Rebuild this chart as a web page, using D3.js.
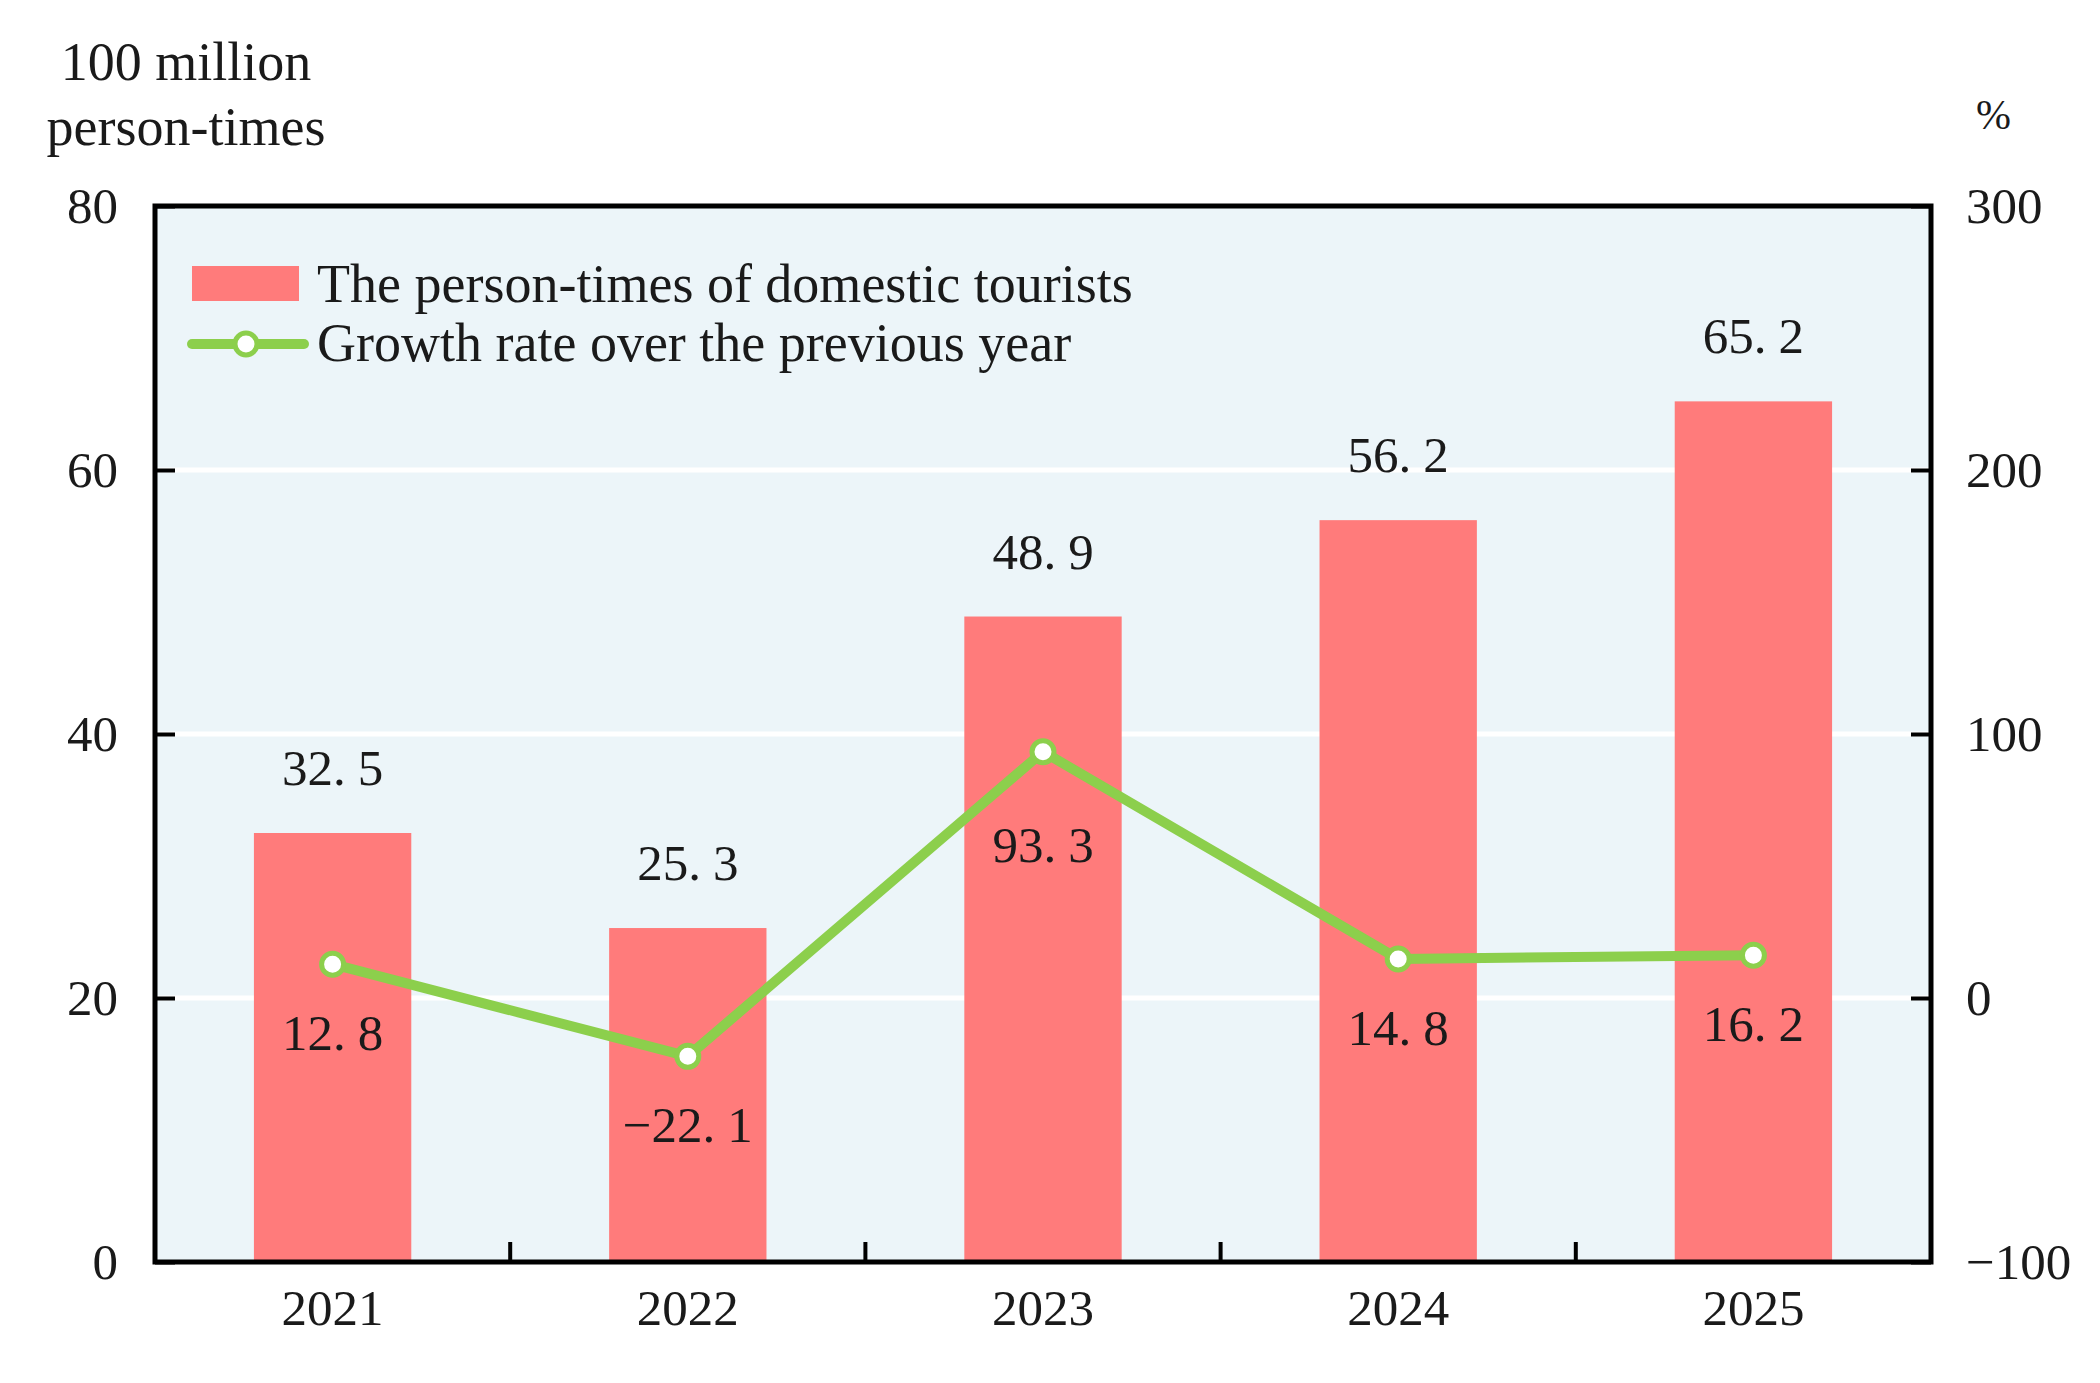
<!DOCTYPE html>
<html>
<head>
<meta charset="utf-8">
<script src="https://cdn.jsdelivr.net/npm/d3@7"></script>
<style>
  body { margin: 0; background: #fff; }
  text { font-family: "Liberation Serif", "Times New Roman", serif; fill: #1a1a1a; }
</style>
</head>
<body>
<div id="chart"></div>
<script>
const years = ["2021", "2022", "2023", "2024", "2025"];
const tourists = [32.5, 25.3, 48.9, 56.2, 65.2];
const growth = [12.8, -22.1, 93.3, 14.8, 16.2];
const leftTicks = [0, 20, 40, 60, 80];
const rightTicks = [-100, 0, 100, 200, 300];

const margin = {top: 206, right: 169, bottom: 121, left: 155};
const width = 2100 - margin.left - margin.right;
const height = 1383 - margin.top - margin.bottom;
const fontSize = 51;
const textSize = 54;

const svg = d3.select("#chart")
    .append("svg")
    .attr("width", width + margin.left + margin.right)
    .attr("height", height + margin.top + margin.bottom)
    .append("g")
    .attr("transform", `translate(${margin.left},${margin.top})`);

const xScale = d3.scaleBand()
    .domain(years)
    .range([0, width])
    .paddingInner(0.557)
    .paddingOuter(0.2785);

const yScale = d3.scaleLinear().domain([0, 80]).range([height, 0]);
const y2Scale = d3.scaleLinear().domain([-100, 300]).range([height, 0]);

// plot background
svg.append("rect")
    .attr("width", width)
    .attr("height", height)
    .attr("fill", "#ecf5f9");

// white gridlines
svg.selectAll(".grid")
    .data(leftTicks.slice(1, -1))
    .join("line")
    .attr("x1", 0)
    .attr("x2", width)
    .attr("y1", d => yScale(d))
    .attr("y2", d => yScale(d))
    .attr("stroke", "#fff")
    .attr("stroke-width", 5);

// bars
svg.selectAll(".bar")
    .data(tourists)
    .join("rect")
    .attr("x", (d, i) => xScale(years[i]))
    .attr("y", d => yScale(d))
    .attr("width", xScale.bandwidth())
    .attr("height", d => height - yScale(d))
    .attr("fill", "#ff7b7b");

// number with a wide gap after the decimal point, as in the original
function numLabel(sel, v) {
    const s = d3.format(".1f")(v).replace("-", "\u2212");
    const [a, b] = s.split(".");
    sel.append("tspan").text(a + ".");
    sel.append("tspan").attr("dx", 12).text(b);
}

// bar labels
tourists.forEach((d, i) => {
    svg.append("text")
        .attr("x", xScale(years[i]) + xScale.bandwidth() / 2)
        .attr("y", yScale(d) - 48)
        .attr("text-anchor", "middle")
        .attr("font-size", fontSize)
        .call(numLabel, d);
});

// growth line
const cx = i => xScale(years[i]) + xScale.bandwidth() / 2;
const line = d3.line()
    .x((d, i) => cx(i))
    .y(d => y2Scale(d));

svg.append("path")
    .datum(growth)
    .attr("fill", "none")
    .attr("stroke", "#8ccf4c")
    .attr("stroke-width", 10)
    .attr("stroke-linejoin", "round")
    .attr("d", line);

svg.selectAll(".pt")
    .data(growth)
    .join("circle")
    .attr("cx", (d, i) => cx(i))
    .attr("cy", d => y2Scale(d))
    .attr("r", 11)
    .attr("fill", "#fff")
    .attr("stroke", "#8ccf4c")
    .attr("stroke-width", 5);

// labels sit under the points; a peak gets a little more room so the line clears it
growth.forEach((d, i) => {
    const peak = i > 0 && i < growth.length - 1 && d > growth[i - 1] && d > growth[i + 1];
    svg.append("text")
        .attr("x", cx(i))
        .attr("y", y2Scale(d) + (peak ? 110 : 86))
        .attr("text-anchor", "middle")
        .attr("font-size", fontSize)
        .call(numLabel, d);
});

// axes
const leftAxis = svg.append("g")
    .call(d3.axisLeft(yScale).tickValues(leftTicks).tickSizeInner(-20).tickSizeOuter(0).tickPadding(37));
const rightAxis = svg.append("g")
    .attr("transform", `translate(${width},0)`)
    .call(d3.axisRight(y2Scale).tickValues(rightTicks).tickFormat(d3.format("d")).tickSizeInner(-20).tickSizeOuter(0).tickPadding(35));
const bottomAxis = svg.append("g")
    .attr("transform", `translate(0,${height})`)
    .call(d3.axisBottom(xScale).tickSize(0).tickPadding(27));

[leftAxis, rightAxis, bottomAxis].forEach(g => {
    g.select(".domain").remove();
    g.selectAll(".tick line").attr("stroke", "#000").attr("stroke-width", 4);
    g.selectAll(".tick text")
        .attr("font-family", "Liberation Serif, serif")
        .attr("font-size", fontSize)
        .attr("fill", "#1a1a1a");
});

// ticks between categories on the x axis
const step = xScale.step();
svg.selectAll(".xtick")
    .data(years.slice(1))
    .join("line")
    .attr("x1", d => xScale(d) - step * xScale.paddingInner() / 2)
    .attr("x2", d => xScale(d) - step * xScale.paddingInner() / 2)
    .attr("y1", height)
    .attr("y2", height - 20)
    .attr("stroke", "#000")
    .attr("stroke-width", 4);

// frame
svg.append("rect")
    .attr("width", width)
    .attr("height", height)
    .attr("fill", "none")
    .attr("stroke", "#000")
    .attr("stroke-width", 5);

// axis titles
svg.append("text")
    .attr("x", 186 - margin.left)
    .attr("y", 80 - margin.top)
    .attr("text-anchor", "middle")
    .attr("font-size", textSize)
    .text("100 million");
svg.append("text")
    .attr("x", 186 - margin.left)
    .attr("y", 145 - margin.top)
    .attr("text-anchor", "middle")
    .attr("font-size", textSize)
    .text("person-times");
svg.append("text")
    .attr("x", 1976 - margin.left)
    .attr("y", 129 - margin.top)
    .attr("font-size", 42)
    .text("%");

// legend
const legend = svg.append("g").attr("transform", "translate(37,60)");
legend.append("rect")
    .attr("width", 107)
    .attr("height", 35)
    .attr("fill", "#ff7b7b");
legend.append("text")
    .attr("x", 125)
    .attr("y", 36)
    .attr("font-size", textSize)
    .text("The person-times of domestic tourists");
legend.append("line")
    .attr("x1", 0)
    .attr("x2", 112)
    .attr("y1", 78)
    .attr("y2", 78)
    .attr("stroke", "#8ccf4c")
    .attr("stroke-width", 10)
    .attr("stroke-linecap", "round");
legend.append("circle")
    .attr("cx", 54)
    .attr("cy", 78)
    .attr("r", 11)
    .attr("fill", "#fff")
    .attr("stroke", "#8ccf4c")
    .attr("stroke-width", 5);
legend.append("text")
    .attr("x", 125)
    .attr("y", 95)
    .attr("font-size", textSize)
    .text("Growth rate over the previous year");
</script>
</body>
</html>
